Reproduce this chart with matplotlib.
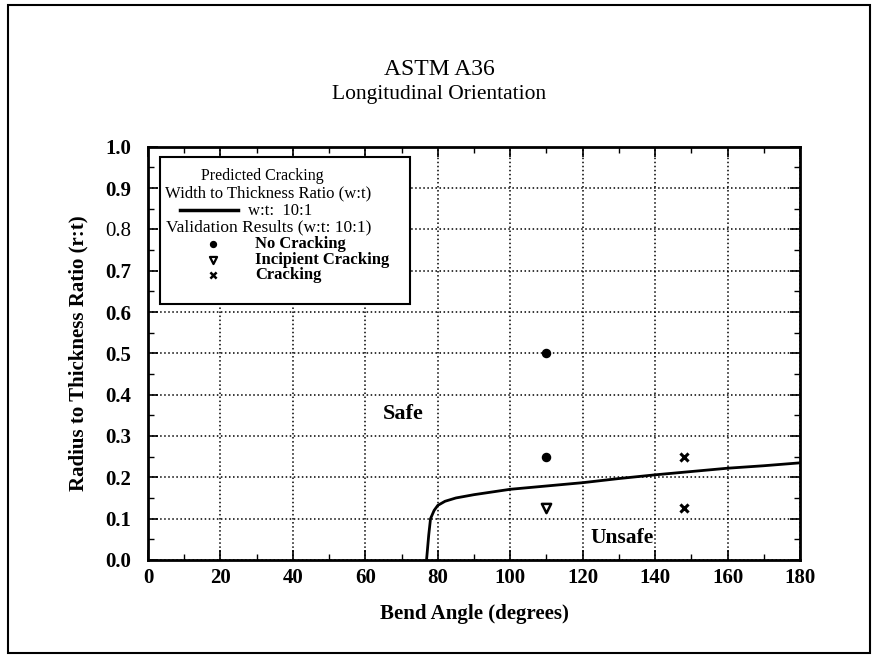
import numpy as np
import matplotlib
matplotlib.use("Agg")
import matplotlib.pyplot as plt
from matplotlib.patches import Rectangle
from matplotlib.lines import Line2D

# predicted cracking curve, w:t 10:1
curve_angle = [76.9, 77.2, 77.5, 78.0, 79.0, 80.0, 82.0, 85.0, 90.0, 100.0, 110.0, 120.0, 130.0, 140.0, 150.0, 160.0, 170.0, 180.0]
curve_ratio = [0.0, 0.03, 0.06, 0.10, 0.12, 0.132, 0.142, 0.150, 0.158, 0.171, 0.179, 0.187, 0.197, 0.206, 0.214, 0.222, 0.228, 0.235]

# validation results
no_crack_angle = [110, 110]
no_crack_ratio = [0.5, 0.25]
incipient_angle = [110]
incipient_ratio = [0.125]
crack_angle = [148, 148]
crack_ratio = [0.25, 0.125]

xticks = [0, 20, 40, 60, 80, 100, 120, 140, 160, 180]
yticks = [0.0, 0.1, 0.2, 0.3, 0.4, 0.5, 0.6, 0.7, 0.8, 0.9, 1.0]

plt.rcParams['font.family'] = ['Liberation Serif', 'DejaVu Serif']

fig = plt.figure(figsize=(8.78, 6.58), dpi=100)
ax = fig.add_axes([0.1686, 0.149, 0.7425, 0.628])

# outer frame round the whole picture
fig.patches.append(Rectangle((0.009, 0.008), 0.982, 0.985, transform=fig.transFigure,
                             fill=False, edgecolor='black', linewidth=1.5))

ax.plot(curve_angle, curve_ratio, color='black', linewidth=2)
ax.scatter(no_crack_angle, no_crack_ratio, marker='o', s=34, color='black', zorder=3)
ax.scatter(incipient_angle, incipient_ratio, marker='v', s=44, facecolor='white',
           edgecolor='black', linewidth=1.8, zorder=3)
ax.scatter(crack_angle, crack_ratio, marker='x', s=34, color='black', linewidth=2.2, zorder=3)

ax.set_xlim(0, 180)
ax.set_ylim(0, 1.0)
ax.set_xticks(xticks)
ax.set_yticks(yticks)
ax.set_xticks(np.arange(10, 180, 20), minor=True)
ax.set_yticks(np.arange(0.05, 1.0, 0.1), minor=True)
ax.set_xticklabels([str(v) for v in xticks], fontsize=15, fontweight='bold')
ylabels = ax.set_yticklabels(['%.1f' % v for v in yticks], fontsize=15, fontweight='bold')
ylabels[8].set_fontweight('normal')
ax.tick_params(which='major', direction='in', length=7, width=1.2, top=True, right=True)
ax.tick_params(axis='y', which='major', pad=12)
ax.tick_params(axis='x', which='major', pad=6)
ax.tick_params(which='minor', direction='in', length=4, width=1.0, top=True, right=True)
ax.grid(True, which='major', linestyle=':', color='black', linewidth=1.1)
for sp in ax.spines.values():
    sp.set_linewidth(2)

ax.set_xlabel('Bend Angle (degrees)', fontsize=15, fontweight='bold', labelpad=11)
ax.set_ylabel('Radius to Thickness Ratio (r:t)', fontsize=15, fontweight='bold', labelpad=12)

fig.text(0.5, 0.894, 'ASTM A36', ha='center', va='center', fontsize=17)
fig.text(0.5, 0.857, 'Longitudinal Orientation', ha='center', va='center', fontsize=15.5)

ax.text(70.4, 0.354, 'Safe', ha='center', va='center', fontsize=16, fontweight='bold')
ax.text(131, 0.053, 'Unsafe', ha='center', va='center', fontsize=15.5, fontweight='bold')

# hand-made legend box
ax.add_patch(Rectangle((3.3, 0.619), 69.0, 0.355, facecolor='white', edgecolor='black',
                       linewidth=1.5, zorder=4))
ax.text(31.5, 0.929, 'Predicted Cracking', ha='center', va='center', fontsize=11.5, zorder=5)
ax.text(4.6, 0.886, 'Width to Thickness Ratio (w:t)', ha='left', va='center', fontsize=12, zorder=5)
ax.add_line(Line2D([8.8, 24.8], [0.846, 0.846], color='black', linewidth=2.5, zorder=5))
ax.text(27.6, 0.845, 'w:t:  10:1', ha='left', va='center', fontsize=12, zorder=5)
ax.text(4.9, 0.806, 'Validation Results (w:t: 10:1)', ha='left', va='center', fontsize=12.5, zorder=5)
ax.scatter([18], [0.765], marker='o', s=18, color='black', zorder=5)
ax.scatter([18], [0.726], marker='v', s=26, facecolor='white', edgecolor='black', linewidth=1.6, zorder=5)
ax.scatter([18], [0.690], marker='x', s=20, color='black', linewidth=1.8, zorder=5)
ax.text(29.5, 0.765, 'No Cracking', ha='left', va='center', fontsize=12, fontweight='bold', zorder=5)
ax.text(29.5, 0.727, 'Incipient Cracking', ha='left', va='center', fontsize=12, fontweight='bold', zorder=5)
ax.text(29.5, 0.690, 'Cracking', ha='left', va='center', fontsize=12, fontweight='bold', zorder=5)

fig.savefig('out.png', dpi=100)
